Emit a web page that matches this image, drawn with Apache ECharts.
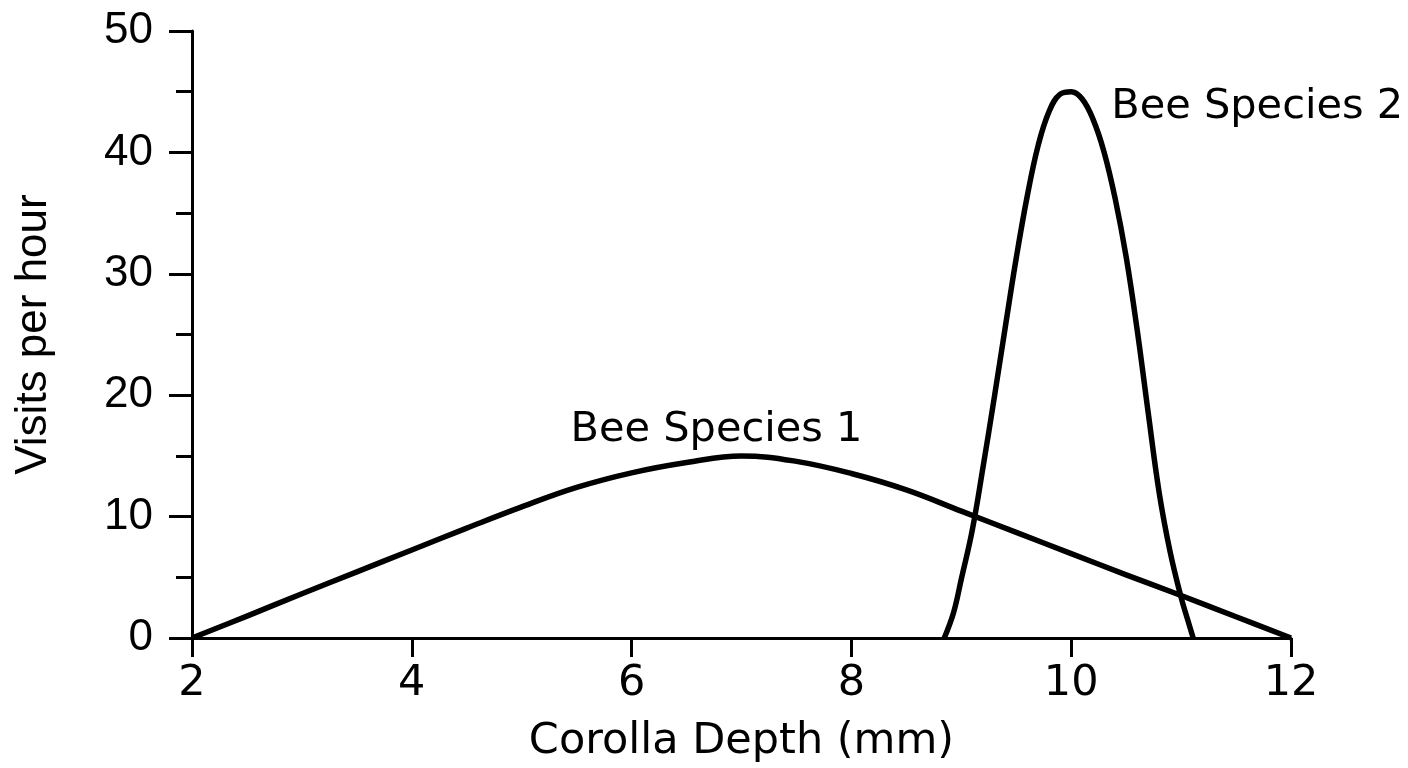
<!DOCTYPE html>
<html>
<head>
<meta charset="utf-8">
<script src="https://cdn.jsdelivr.net/npm/echarts@6/dist/echarts.min.js"></script>
<style>
  html, body { margin: 0; padding: 0; background: #fff; }
  #chart { width: 1408px; height: 768px; }
</style>
</head>
<body>
<div id="chart"></div>
<script>
// 数据：花冠深度 (mm) 与每小时访问次数
var depth1 = [2, 2.5, 3, 3.5, 4, 4.5, 5, 5.5, 6, 6.5, 7, 7.5, 8, 8.5, 9, 9.5, 10, 10.5, 11, 11.5, 12];
var visits1 = [0, 1.8, 3.65, 5.45, 7.25, 9.05, 10.8, 12.4, 13.6, 14.45, 15, 14.55, 13.55, 12.2, 10.45, 8.7, 6.95, 5.2, 3.5, 1.75, 0];

var depth2 = [8.845, 8.93, 9.0, 9.1, 9.2, 9.3, 9.4, 9.5, 9.6, 9.7, 9.8, 9.9, 10.0, 10.1, 10.2, 10.3, 10.4, 10.5, 10.6, 10.7, 10.8, 10.9, 11.0, 11.06, 11.11];
var visits2 = [0, 2.1, 4.85, 8.9, 14.2, 19.8, 25.6, 31.3, 36.4, 40.6, 43.4, 44.8, 45.0, 44.4, 42.7, 40.0, 36.2, 31.4, 25.4, 18.6, 12.0, 7.1, 3.35, 1.5, 0];

var seriesNames = ['Bee Species 1', 'Bee Species 2'];
var peaks = [[7, 15], [10, 45]];
var xTicks = [2, 4, 6, 8, 10, 12];
var yTicks = [0, 10, 20, 30, 40, 50];

function pairs(xs, ys) {
    return xs.map(function (x, i) { return [x, ys[i]]; });
}

var geo = '"DejaVu Sans", sans-serif';
var arial = '"Liberation Sans", Arial, sans-serif';

var myChart = echarts.init(document.getElementById('chart'));

var option = {
    animation: false,
    grid: { left: 192, right: 117, top: 31, bottom: 129, containLabel: false },
    xAxis: {
        type: 'value',
        min: xTicks[0],
        max: xTicks[xTicks.length - 1],
        interval: 2,
        name: 'Corolla Depth (mm)',
        nameLocation: 'middle',
        nameGap: 82,
        nameTextStyle: { fontFamily: geo, fontSize: 43, color: '#000' },
        axisLine: { onZero: false, lineStyle: { color: '#000', width: 3 } },
        axisTick: { inside: false, length: 19, lineStyle: { color: '#000', width: 3 } },
        axisLabel: { margin: 24, fontFamily: geo, fontSize: 43, color: '#000' },
        splitLine: { show: false }
    },
    yAxis: {
        type: 'value',
        min: yTicks[0],
        max: yTicks[yTicks.length - 1],
        interval: 10,
        name: 'Visits per hour',
        nameLocation: 'middle',
        nameGap: 136,
        nameTextStyle: { fontFamily: arial, fontSize: 44, color: '#000' },
        axisLine: { show: true, lineStyle: { color: '#000', width: 3 } },
        axisTick: { show: true, length: 23, lineStyle: { color: '#000', width: 3 } },
        minorTick: { show: true, splitNumber: 2, length: 16, lineStyle: { color: '#000', width: 3 } },
        axisLabel: { margin: 39, fontFamily: arial, fontSize: 44, color: '#000' },
        splitLine: { show: false }
    },
    series: [
        {
            name: seriesNames[0],
            type: 'line',
            smooth: 0.4,
            smoothConstraint: false,
            symbol: 'none',
            lineStyle: { color: '#000', width: 5.5, join: 'round' },
            data: pairs(depth1, visits1),
            markPoint: {
                symbol: 'circle',
                symbolSize: 0,
                data: [{ coord: peaks[0] }],
                label: {
                    show: true, position: 'top', offset: [-25, 0],
                    formatter: seriesNames[0],
                    fontFamily: geo, fontSize: 41.5, color: '#000'
                }
            }
        },
        {
            name: seriesNames[1],
            type: 'line',
            smooth: 0.4,
            smoothConstraint: false,
            symbol: 'none',
            lineStyle: { color: '#000', width: 5.5, join: 'round' },
            data: pairs(depth2, visits2),
            markPoint: {
                symbol: 'circle',
                symbolSize: 0,
                data: [{ coord: peaks[1] }],
                label: {
                    show: true, position: 'right', offset: [35, 16],
                    formatter: seriesNames[1],
                    fontFamily: geo, fontSize: 41.5, color: '#000'
                }
            }
        }
    ]
};

myChart.setOption(option);
</script>
</body>
</html>
